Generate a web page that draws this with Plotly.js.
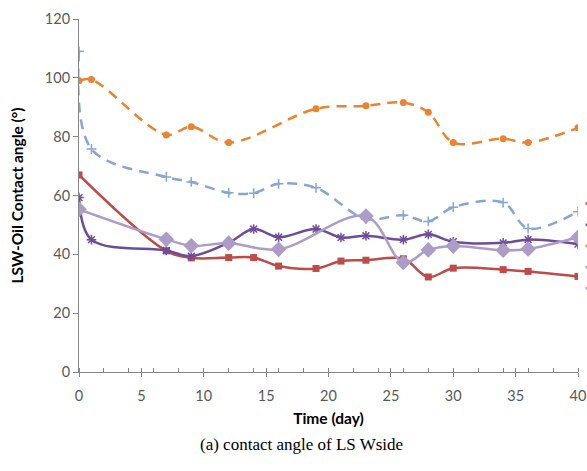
<!DOCTYPE html>
<html>
<head>
<meta charset="utf-8">
<script src="https://cdn.plot.ly/plotly-3.0.1.min.js"></script>
<style>html,body{margin:0;padding:0;background:#fff;}#chart{width:587px;height:471px;}</style>
</head>
<body>
<div id="chart"></div>
<script>
// Data (legend labels are cropped off in the reference)
const redDays   = [0, 7, 9, 12, 14, 16, 19, 21, 23, 26, 28, 30, 34, 36, 40];
const redVals   = [67, 41.2, 38.8, 38.9, 38.9, 36, 35.2, 37.7, 38, 38.5, 32.3, 35.3, 34.8, 34.2, 32.5];

const purpleDays = [0, 1, 7, 9, 12, 14, 16, 19, 21, 23, 26, 28, 30, 34, 36, 40];
const purpleVals = [59.3, 45, 41.3, 39.4, 44, 48.6, 45.8, 48.6, 45.7, 46.3, 45, 46.8, 44.3, 43.9, 45, 43.5];

const orangeDays = [0, 1, 7, 9, 12, 19, 23, 26, 28, 30, 34, 36, 40];
const orangeVals = [99, 99.4, 80.6, 83.4, 78, 89.5, 90.5, 91.6, 88.3, 78, 79.3, 78, 83];

const blueDays = [0, 1, 7, 9, 12, 14, 16, 19, 23, 26, 28, 30, 34, 36, 40];
const blueVals = [109, 75.8, 66.3, 64.6, 60.9, 60.8, 64, 62.6, 52, 53.3, 51.2, 56, 57.6, 48.8, 54.5];

const lilacDays = [0, 7, 9, 12, 16, 23, 26, 28, 30, 34, 36, 40];
const lilacVals = [55.3, 45.1, 42.9, 43.8, 41.7, 53, 37.2, 41.5, 42.8, 41.4, 41.8, 45.8];

const xTitle = "Time (day)";
const yTitle = "LSW-Oil Contact angle (°)";
const caption = "(a) contact angle of LS Wside";

const SM = 1.0;
const traces = [
  {x: redDays, y: redVals, name: '', mode: 'lines+markers',
   line: {color: '#BE4B48', width: 2.5, shape: 'spline', smoothing: SM},
   marker: {symbol: 'square', size: 7, color: '#BE4B48'}},
  {x: purpleDays, y: purpleVals, name: '', mode: 'lines+markers',
   line: {color: '#6F4C9B', width: 2.5, shape: 'spline', smoothing: SM},
   marker: {symbol: 'asterisk-open', size: 8, line: {color: '#6F4C9B', width: 1.5}}},
  {x: orangeDays, y: orangeVals, name: '', mode: 'lines+markers',
   line: {color: '#EB8430', width: 2.5, dash: '10px,7px', shape: 'spline', smoothing: SM},
   marker: {symbol: 'circle', size: 7, color: '#EB8430'}},
  {x: blueDays, y: blueVals, name: '', mode: 'lines+markers',
   line: {color: '#86A6D8', width: 2.5, dash: '10px,7px', shape: 'spline', smoothing: SM},
   marker: {symbol: 'cross-thin-open', size: 7, line: {color: '#86A6D8', width: 1.5}}},
  {x: lilacDays, y: lilacVals, name: '', mode: 'lines+markers',
   line: {color: '#AD9CC8', width: 2.5, shape: 'spline', smoothing: SM},
   marker: {symbol: 'diamond', size: 12, color: '#AD9CC8'}}
];

const axisFont = {family: 'Lato, "Open Sans", sans-serif', size: 14.5, color: '#595959'};
const titleFont = {family: 'Lato, sans-serif', size: 15.5, color: '#000', weight: 'bold'};
const layout = {
  width: 587, height: 471,
  margin: {l: 79, r: 9, t: 19, b: 99, pad: 0},
  paper_bgcolor: '#fff', plot_bgcolor: '#fff',
  showlegend: true,
  legend: {xref: 'container', yref: 'container', x: 0.989, xanchor: 'left', y: 0.601, yanchor: 'top',
           bgcolor: 'rgba(0,0,0,0)', borderwidth: 0,
           font: {family: 'Lato, sans-serif', size: 14, color: '#595959'}, tracegroupgap: 0},
  xaxis: {
    range: [0, 40], dtick: 5, tick0: 0, showgrid: false, zeroline: false,
    showline: true, linecolor: '#868686', linewidth: 1,
    ticks: 'outside', ticklen: 4, tickcolor: '#868686', tickwidth: 1,
    ticklabelstandoff: 7,
    minor: {dtick: 2, tick0: 0, ticks: 'inside', ticklen: 4, tickcolor: '#868686', showgrid: false},
    tickfont: axisFont,
    title: {text: xTitle, standoff: 9, font: titleFont}
  },
  xaxis2: {
    range: [0, 40], dtick: 5, tick0: 0, overlaying: 'x', anchor: 'y', side: 'bottom',
    showgrid: false, zeroline: false, showline: false, showticklabels: false,
    ticks: 'inside', ticklen: 4, tickcolor: '#868686', tickwidth: 1
  },
  yaxis: {
    range: [0, 120], dtick: 20, showgrid: false, zeroline: false,
    showline: true, linecolor: '#868686', linewidth: 1,
    ticks: 'outside', ticklen: 5, tickcolor: '#868686',
    tickfont: axisFont,
    title: {text: yTitle, standoff: 17, font: titleFont}
  },
  annotations: [{
    text: caption, xref: 'paper', yref: 'paper', x: 0.445, y: -0.205,
    xanchor: 'center', yanchor: 'middle', showarrow: false,
    font: {family: '"Liberation Serif", "Times New Roman", serif', size: 17, color: '#000'}
  }]
};
// dummy trace to activate the overlay axis for cross ticks
traces.push({x: [0], y: [null], xaxis: 'x2', yaxis: 'y', showlegend: false, hoverinfo: 'skip', mode: 'lines'});

Plotly.newPlot('chart', traces, layout, {displayModeBar: false, staticPlot: true});
</script>
</body>
</html>
